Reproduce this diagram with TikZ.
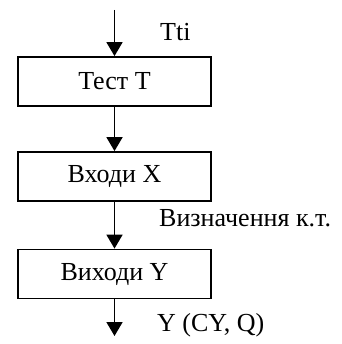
\documentclass[tikz,border=0pt]{standalone}
\usepackage{fontspec}
\setmainfont{Liberation Serif}
\usetikzlibrary{arrows.meta}
\begin{document}
\begin{tikzpicture}[x=1pt,y=-1pt,
  blk/.style={draw,line width=1.8pt,minimum width=193pt,minimum height=49pt,inner sep=0pt,font=\fontsize{26}{30}\selectfont},
  lbl/.style={anchor=west,inner sep=0pt,font=\fontsize{26}{30}\selectfont},
  arr/.style={line width=1.8pt,-{Triangle[length=14pt,width=16pt]}}]
\useasboundingbox (0,0) rectangle (341,344);
\node[blk] (b1) at (114.5,81.5) {Тест Т};
\node[blk] (b2) at (114.5,176.5) {Входи X};
\node[blk] (b3) at (114.5,274) {Виходи Y};
\coordinate (top) at (114.5,10);
\coordinate (bot) at (114.5,336);
\draw[arr] (top) -- (b1.north);
\draw[arr] (b1.south) -- (b2.north);
\draw[arr] (b2.south) -- (b3.north);
\draw[arr] (b3.south) -- (bot);
\node[lbl] (t1) at (160,32) {Tti};
\node[lbl] (t2) at (159,218) {Визначення к.т.};
\node[lbl] (t3) at (157,325) {Y (CY, Q)};
\end{tikzpicture}
\end{document}
